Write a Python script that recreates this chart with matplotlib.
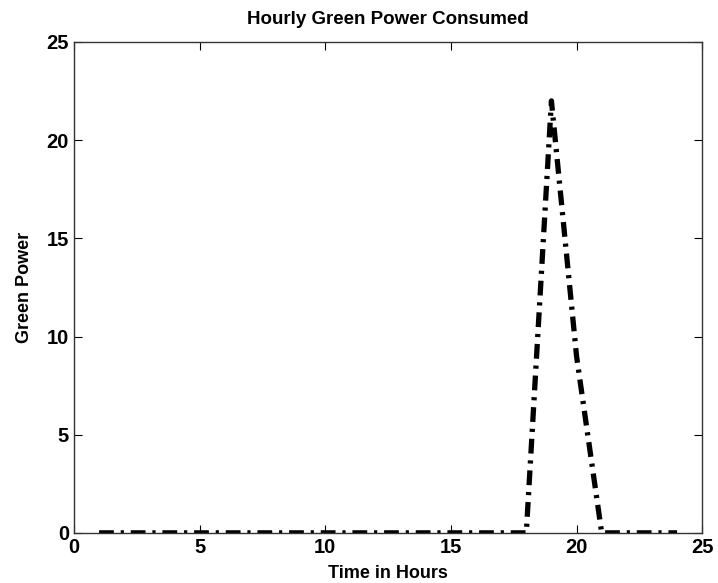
import matplotlib
matplotlib.use('Agg')
import matplotlib.pyplot as plt

plt.rcParams['font.family'] = ['Liberation Sans', 'DejaVu Sans']
plt.rcParams['font.weight'] = 'bold'

hours = list(range(1, 25))
green_power = [0, 0, 0, 0, 0, 0, 0, 0, 0, 0, 0, 0, 0, 0, 0, 0, 0, 0, 22, 9, 0, 0, 0, 0]

fig = plt.figure(figsize=(7.18, 5.83), dpi=100)
ax = fig.add_axes([0.103, 0.086, 0.875, 0.842])
line, = ax.plot(hours, green_power, color='black', linewidth=3.8, linestyle='-.')
line.set_dashes([2.8, 1.3, 0.6, 1.3])

ax.set_xlim(0, 25)
ax.set_ylim(0, 25)
ax.set_xticks([0, 5, 10, 15, 20, 25])
ax.set_yticks([0, 5, 10, 15, 20, 25])
ax.tick_params(direction='in', top=True, right=True, length=6, width=0.8, labelsize=14.5)
for lbl in ax.get_xticklabels() + ax.get_yticklabels():
    lbl.set_fontweight('bold')
for s in ax.spines.values():
    s.set_linewidth(1.0)
    s.set_color('#333333')

ax.set_title('Hourly Green Power Consumed', fontsize=13.5, fontweight='bold', pad=13)
ax.set_xlabel('Time in Hours', fontsize=13, fontweight='bold', labelpad=6)
ax.set_ylabel('Green Power', fontsize=13, fontweight='bold', labelpad=10)

fig.savefig('out.png', dpi=100)
